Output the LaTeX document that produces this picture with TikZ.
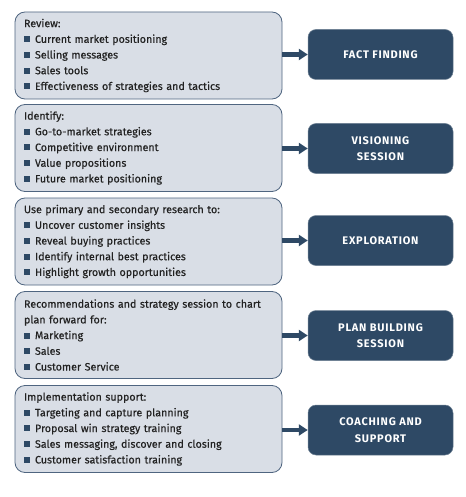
\documentclass[tikz,border=0pt]{standalone}
\usepackage{fontspec}
\setmainfont{Fira Sans}[FakeBold=0.4]
\newfontfamily\stagefont[LetterSpace=7]{Fira Sans}
\usetikzlibrary{arrows.meta}

\definecolor{panelfill}{HTML}{D9DEE6}
\definecolor{panelline}{HTML}{4F6580}
\definecolor{navy}{HTML}{2E4965}
\definecolor{bodytext}{HTML}{222222}

\newcommand{\sq}{\textcolor{navy}{\raisebox{0.6pt}{\rule{6pt}{6pt}}}\hspace{5pt}}

\def\panelw{267}
\def\panelh{87}
\def\stagew{145}
\def\stageh{50}

\tikzset{
  leftbox/.style={draw=panelline, line width=0.8pt, fill=panelfill, rounded corners=10pt,
    minimum width=\panelw pt, minimum height=\panelh pt, text width=\panelw pt-18pt,
    inner xsep=9pt, align=left, text=bodytext, font=\fontsize{10.7}{15.7}\selectfont},
  stagebox/.style={fill=navy, draw=navy!70!white, line width=0.5pt, rounded corners=8pt,
    minimum width=\stagew pt, minimum height=\stageh pt, align=center, text=white,
    font=\fontsize{11}{16.5}\selectfont\stagefont\bfseries},
  flowarrow/.style={navy, line width=4.2pt, -{Triangle[length=9pt,width=11pt]}}
}

\begin{document}
\begin{tikzpicture}[x=1pt,y=-1pt]
        \useasboundingbox[fill=white] (0,0) rectangle (465,497);
        % review
        \node[leftbox] (review) at (148.5,55.5) {Review:\\
          \sq Current market positioning\\
          \sq Selling messages\\
          \sq Sales tools\\
          \sq Effectiveness of strategies and tactics};
        % identify
        \node[leftbox] (identify) at (148.5,148) {Identify:\\
          \sq Go-to-market strategies\\
          \sq Competitive environment\\
          \sq Value propositions\\
          \sq Future market positioning};
        % research
        \node[leftbox] (research) at (148.5,241.5) {Use primary and secondary research to:\\
          \sq Uncover customer insights\\
          \sq Reveal buying practices\\
          \sq Identify internal best practices\\
          \sq Highlight growth opportunities};
        % recommendations
        \node[leftbox] (recommend) at (148.5,335) {Recommendations and strategy session to chart\\
          plan forward for:\\
          \sq Marketing\\
          \sq Sales\\
          \sq Customer Service};
        % implementation
        \node[leftbox] (implement) at (148.5,429) {Implementation support:\\
          \sq Targeting and capture planning\\
          \sq Proposal win strategy training\\
          \sq Sales messaging, discover and closing\\
          \sq Customer satisfaction training};
        % stages
        \node[stagebox] (fact) at (380.5,54.5) {FACT FINDING};
        \node[stagebox] (vision) at (380.5,148.5) {VISIONING\\SESSION};
        \node[stagebox] (explore) at (380.5,240.5) {EXPLORATION};
        \node[stagebox] (plan) at (380.5,335.5) {PLAN BUILDING\\SESSION};
        \node[stagebox] (coach) at (380.5,430) {COACHING AND\\SUPPORT};
        % arrows (kept level with the stage boxes)
        \draw[flowarrow] (review.east |- fact.west) -- (fact.west);
        \draw[flowarrow] (identify.east |- vision.west) -- (vision.west);
        \draw[flowarrow] (research.east |- explore.west) -- (explore.west);
        \draw[flowarrow] (recommend.east |- plan.west) -- (plan.west);
        \draw[flowarrow] (implement.east |- coach.west) -- (coach.west);
    \end{tikzpicture}
\end{document}
